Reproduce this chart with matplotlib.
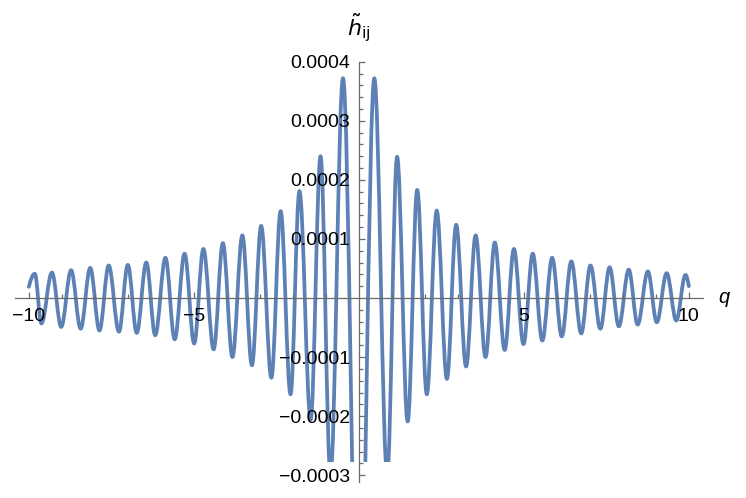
import numpy as np
import matplotlib
matplotlib.use('Agg')
import matplotlib.pyplot as plt
from matplotlib.path import Path
from matplotlib.patches import PathPatch, Rectangle

plt.rcParams['font.family'] = ['Liberation Sans', 'DejaVu Sans']

# extrema of the curve (q, h in units of 1e-4),
# plus the two end points at q = -10 and q = 10
q_ext = [-10.0, -9.82, -9.62, -9.30, -9.02, -8.72, -8.43, -8.14, -7.86, -7.58,
         -7.27, -7.00, -6.73, -6.44, -6.17, -5.86, -5.58, -5.28, -4.99, -4.71,
         -4.40, -4.12, -3.83, -3.53, -3.24, -2.96, -2.65, -2.37, -2.07, -1.80,
         -1.46, -1.16, -0.86, -0.48, 0.0, 0.47, 0.86, 1.16, 1.48, 1.77,
         2.06, 2.36, 2.67, 2.95, 3.25, 3.54, 3.84, 4.12, 4.42, 4.70,
         4.99, 5.27, 5.56, 5.86, 6.15, 6.44, 6.74, 7.02, 7.32, 7.60,
         7.88, 8.18, 8.45, 8.76, 9.03, 9.33, 9.62, 9.90, 10.0]
h_ext = [0.19, 0.41, -0.43, 0.43, -0.49, 0.47, -0.52, 0.51, -0.55, 0.55,
         -0.57, 0.56, -0.59, 0.60, -0.63, 0.68, -0.70, 0.75, -0.77, 0.83,
         -0.87, 0.93, -1.00, 1.06, -1.14, 1.22, -1.35, 1.47, -1.63, 1.81,
         -2.06, 2.40, -3.0, 3.72, -6.7, 3.72, -3.0, 2.39, -2.09, 1.83,
         -1.63, 1.48, -1.37, 1.24, -1.16, 1.06, -1.00, 0.94, -0.88, 0.83,
         -0.78, 0.75, -0.72, 0.68, -0.65, 0.62, -0.60, 0.55, -0.52, 0.52,
         -0.48, 0.48, -0.45, 0.45, -0.41, 0.42, -0.38, 0.39, 0.20]
h_scale = 1e-4
h_clip = -2.77e-4  # curve is cut off here

x_major = [-10, -5, 5, 10]
x_labels = ['\u221210', '\u22125', '5', '10']
y_major = [-3e-4, -2e-4, -1e-4, 1e-4, 2e-4, 3e-4, 4e-4]
y_labels = ['\u22120.0003', '\u22120.0002', '\u22120.0001',
            '0.0001', '0.0002', '0.0003', '0.0004']

line_color = '#5e81b5'
axis_color = '#6b6b6b'


def wave_path(xs, ys):
    '''Smooth path through extrema, flat tangent at every extremum'''
    k = 1 - 2 / np.pi
    verts = [(xs[0], ys[0])]
    codes = [Path.MOVETO]
    n = len(xs)
    for i in range(n - 1):
        x0, y0, x1, y1 = xs[i], ys[i], xs[i + 1], ys[i + 1]
        d = x1 - x0
        if i == 0:
            c1 = (x0 + d / 3, y0 + (y1 - y0) * 0.6)
        else:
            c1 = (x0 + k * d, y0)
        if i == n - 2:
            c2 = (x1 - d / 3, y1 - (y1 - y0) * 0.6)
        else:
            c2 = (x1 - k * d, y1)
        verts += [c1, c2, (x1, y1)]
        codes += [Path.CURVE4] * 3
    return Path(verts, codes)


fig = plt.figure(figsize=(7.46, 4.98), dpi=100)
ax = fig.add_axes([0.0201, 0.0327, 0.9218, 0.8434])
ax.set_xlim(-10.42, 10.42)
ax.set_ylim(-3.11e-4, 4.0e-4)

path = wave_path(q_ext, [h * h_scale for h in h_ext])
curve = PathPatch(path, fill=False, edgecolor=line_color, lw=2.7,
                  capstyle='round', joinstyle='round')
ax.add_patch(curve)
clip = Rectangle((-11, h_clip), 22, 1e-3, transform=ax.transData)
curve.set_clip_path(clip)

for s in ['top', 'right']:
    ax.spines[s].set_visible(False)
for s in ['left', 'bottom']:
    ax.spines[s].set_position('zero')
    ax.spines[s].set_color(axis_color)
    ax.spines[s].set_linewidth(0.9)

ax.set_xticks(x_major, x_labels)
ax.set_xticks([v for v in range(-10, 11) if v % 5 != 0], minor=True)
ax.set_yticks(y_major, y_labels)
ax.set_yticks([v * 2e-5 for v in range(-15, 21) if v % 5 != 0], minor=True)

ax.tick_params(which='both', direction='in', color=axis_color, width=0.9,
               labelsize=14, labelcolor='black')
ax.tick_params(which='major', length=4.5)
ax.tick_params(which='minor', length=2.6)
ax.tick_params(axis='x', which='major', pad=7.5)
ax.tick_params(axis='y', which='major', pad=6.5)

ax.annotate('q', xy=(1, 0), xycoords=ax.get_yaxis_transform(),
            xytext=(21, 0), textcoords='offset pixels',
            ha='center', va='center', fontsize=14.5, style='italic')
ax.annotate(r'$\tilde{h}_{\mathrm{ij}}$', xy=(0, 1),
            xycoords=ax.get_xaxis_transform(),
            xytext=(0, 34), textcoords='offset pixels',
            ha='center', va='center', fontsize=16)

fig.savefig('out.png', dpi=100)
